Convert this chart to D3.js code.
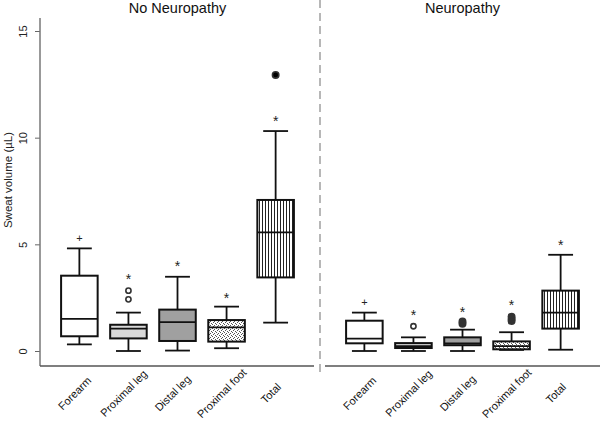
<!DOCTYPE html>
<html>
<head>
<meta charset="utf-8">
<script src="https://cdn.jsdelivr.net/npm/d3@7"></script>
<style>
  body { margin: 0; background: #fff; }
  text { font-family: Arial, "Liberation Sans", sans-serif; }
</style>
</head>
<body>
<div id="chart"></div>
<script>
const categories = ["Forearm", "Proximal leg", "Distal leg", "Proximal foot", "Total"];
const panels = ["No Neuropathy", "Neuropathy"];
const yTicks = [0, 5, 10, 15];

// No Neuropathy: whisker low, Q1, median, Q3, whisker high
const noNeuroLow  = [0.31, 0.00, 0.02, 0.13, 1.33];
const noNeuroQ1   = [0.69, 0.59, 0.47, 0.44, 3.45];
const noNeuroMed  = [1.51, 1.05, 1.35, 1.11, 5.56];
const noNeuroQ3   = [3.53, 1.23, 1.94, 1.45, 7.08];
const noNeuroHigh = [4.81, 1.80, 3.48, 2.08, 10.31];
const noNeuroOutliers = [[], [2.42, 2.83], [], [], [12.94]];
const noNeuroSig = [5.28, 3.48, 4.11, 2.61, 10.88];

// Neuropathy
const neuroLow  = [0.00, 0.00, 0.00, 0.05, 0.06];
const neuroQ1   = [0.36, 0.14, 0.27, 0.08, 1.05];
const neuroMed  = [0.58, 0.23, 0.36, 0.23, 1.80];
const neuroQ3   = [1.42, 0.37, 0.64, 0.45, 2.83];
const neuroHigh = [1.80, 0.64, 1.00, 0.88, 4.51];
const neuroOutliers = [[], [1.16], [1.28, 1.38], [1.41, 1.50, 1.61], []];
const neuroSig = [2.31, 1.80, 1.95, 2.26, 5.08];

const sigMarks = ["+", "*", "*", "*", "*"];

const WIDTH = 600, HEIGHT = 423;
const svg = d3.select("#chart").append("svg")
    .attr("width", WIDTH).attr("height", HEIGHT);

// fill patterns
const defs = svg.append("defs");
const dots = defs.append("pattern").attr("id", "dots")
    .attr("patternUnits", "userSpaceOnUse").attr("width", 4).attr("height", 4);
dots.append("rect").attr("width", 4).attr("height", 4).attr("fill", "#fff");
[[0, 0], [2, 1], [1, 2], [3, 3]].forEach(p =>
    dots.append("rect").attr("x", p[0]).attr("y", p[1]).attr("width", 1).attr("height", 1).attr("fill", "#555"));
const vlines = defs.append("pattern").attr("id", "vlines")
    .attr("patternUnits", "userSpaceOnUse").attr("width", 3).attr("height", 3);
vlines.append("rect").attr("width", 3).attr("height", 3).attr("fill", "#fff");
vlines.append("rect").attr("x", 1).attr("width", 1).attr("height", 3).attr("fill", "#222");

const fills = ["#ffffff", "#d9d9d9", "#a0a0a0", "url(#dots)", "url(#vlines)"];

const y = d3.scaleLinear().domain([0, 15]).range([351, 31]);

// y axis
const yAxis = svg.append("g").attr("transform", "translate(40,0)")
    .call(d3.axisLeft(y).tickValues(yTicks).tickSize(5));
yAxis.select(".domain").remove();
yAxis.selectAll(".tick line").attr("stroke", "#666");
yAxis.selectAll(".tick text")
    .attr("font-size", 11).attr("fill", "#222")
    .attr("transform", "rotate(-90)")
    .attr("x", 0).attr("y", -13).attr("dy", 0)
    .attr("text-anchor", "middle")
    .attr("font-family", "Arial, 'Liberation Sans', sans-serif");
svg.append("line").attr("x1", 40).attr("x2", 40).attr("y1", 18).attr("y2", 366)
    .attr("stroke", "#777").attr("stroke-width", 1.5);

svg.append("text")
    .attr("transform", "translate(12,180) rotate(-90)")
    .attr("text-anchor", "middle").attr("font-size", 11.5).attr("fill", "#222")
    .text("Sweat volume (µL)");

// divider
svg.append("line").attr("x1", 320).attr("x2", 320).attr("y1", 0).attr("y2", 376)
    .attr("stroke", "#888").attr("stroke-width", 1.2).attr("stroke-dasharray", "8,5");

const panelData = [
    { low: noNeuroLow, q1: noNeuroQ1, med: noNeuroMed, q3: noNeuroQ3, high: noNeuroHigh,
      out: noNeuroOutliers, sig: noNeuroSig, x0: 40, x1: 315, axisEnd: 314 },
    { low: neuroLow, q1: neuroQ1, med: neuroMed, q3: neuroQ3, high: neuroHigh,
      out: neuroOutliers, sig: neuroSig, x0: 325, x1: 600, axisEnd: 600 }
];

panelData.forEach((P, pi) => {
    const x = d3.scaleBand().domain(categories).range([P.x0, P.x1])
        .paddingInner(0.255).paddingOuter(0.43);
    const bw = x.bandwidth();
    const g = svg.append("g");

    // bottom axis line
    g.append("line").attr("x1", P.x0).attr("x2", P.axisEnd).attr("y1", 366).attr("y2", 366)
        .attr("stroke", "#555").attr("stroke-width", 1.3);

    g.append("text").attr("x", (P.x0 + P.x1) / 2).attr("y", 13)
        .attr("text-anchor", "middle").attr("font-size", 14.5).attr("fill", "#111")
        .text(panels[pi]);

    categories.forEach((c, i) => {
        const cx = x(c) + bw / 2;
        const capW = bw * 0.68;
        // whiskers
        g.append("line").attr("x1", cx).attr("x2", cx)
            .attr("y1", y(P.high[i])).attr("y2", y(P.low[i]))
            .attr("stroke", "#111").attr("stroke-width", 1.8);
        [P.high[i], P.low[i]].forEach(v =>
            g.append("line").attr("x1", cx - capW / 2).attr("x2", cx + capW / 2)
                .attr("y1", y(v)).attr("y2", y(v))
                .attr("stroke", "#111").attr("stroke-width", 1.8));
        // box
        g.append("rect").attr("x", x(c)).attr("width", bw)
            .attr("y", y(P.q3[i])).attr("height", Math.max(1, y(P.q1[i]) - y(P.q3[i])))
            .attr("fill", fills[i]).attr("stroke", "#111").attr("stroke-width", 2);
        g.append("line").attr("x1", x(c)).attr("x2", x(c) + bw)
            .attr("y1", y(P.med[i])).attr("y2", y(P.med[i]))
            .attr("stroke", "#111").attr("stroke-width", 1.8);
        // outliers
        const filled = (pi === 0 && i === 4) || (pi === 1 && i >= 2);
        P.out[i].forEach(v =>
            g.append("circle").attr("cx", cx).attr("cy", y(v)).attr("r", filled ? 3.2 : 2.6)
                .attr("fill", filled ? (pi === 0 ? "#000" : "#333") : "#fff")
                .attr("stroke", "#333").attr("stroke-width", 1.6));
        // significance mark
        g.append("text").attr("x", cx).attr("y", y(P.sig[i]))
            .attr("dy", sigMarks[i] === "*" ? 7.5 : 4)
            .attr("text-anchor", "middle").attr("font-size", sigMarks[i] === "*" ? 14 : 11)
            .attr("fill", "#222").text(sigMarks[i]);
        // category label
        g.append("text")
            .attr("transform", `translate(${cx - 2},396) rotate(-45)`)
            .attr("text-anchor", "middle").attr("font-size", 11).attr("fill", "#111")
            .text(c);
    });
});
</script>
</body>
</html>
